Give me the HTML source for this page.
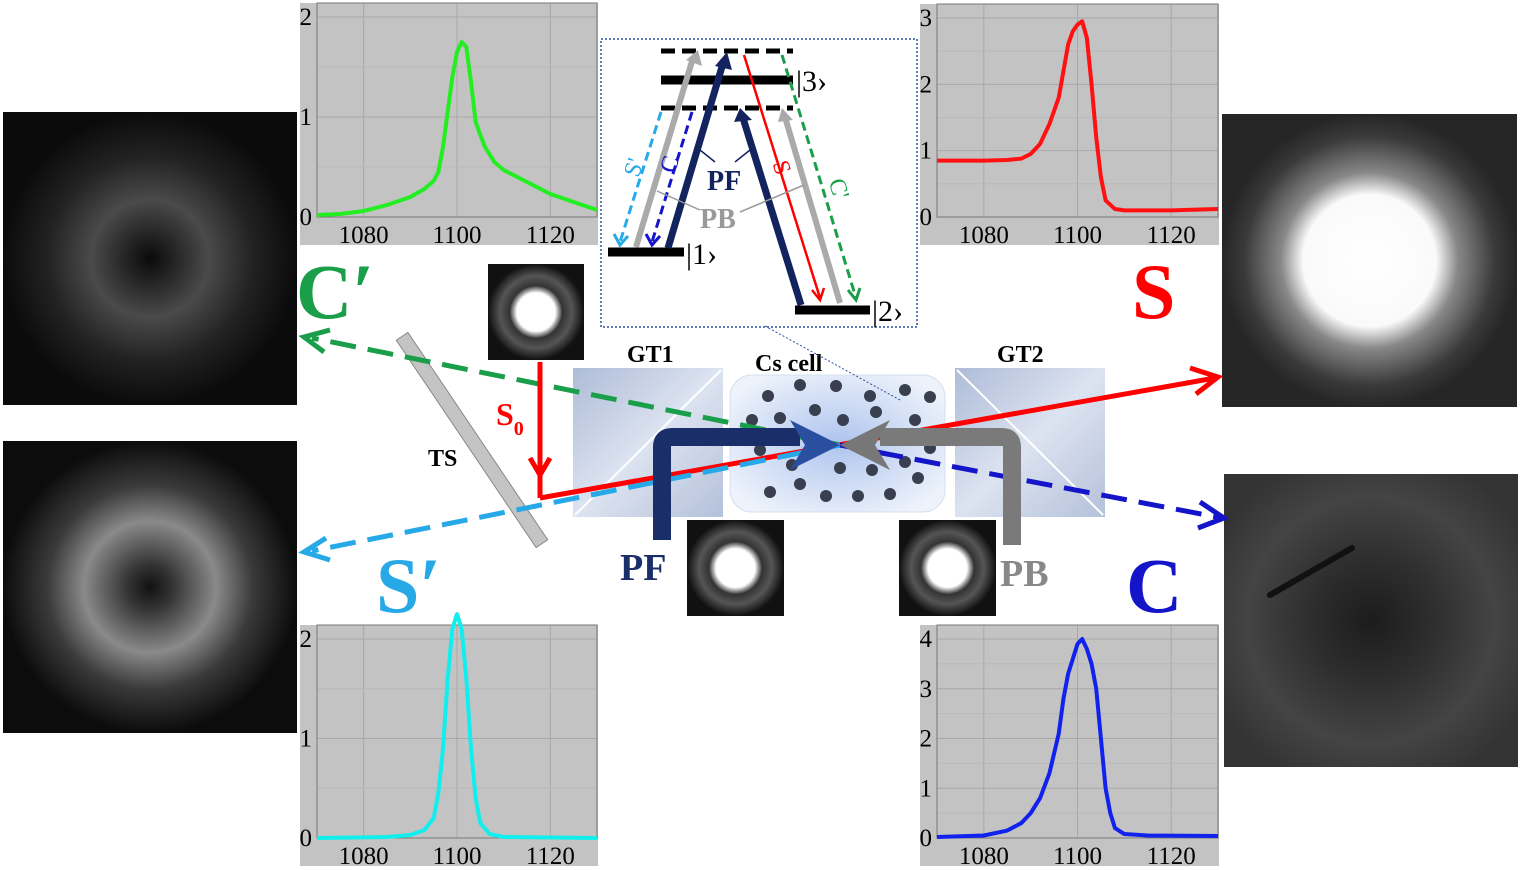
<!DOCTYPE html>
<html><head><meta charset="utf-8"><style>
body{margin:0;background:#fff;}
svg{display:block;font-family:"Liberation Serif",serif;}
</style></head><body>
<svg id="fig" width="1520" height="870" viewBox="0 0 1520 870">
<defs>
<radialGradient id="donut1" cx="50%" cy="50%" r="50%"><stop offset="0" stop-color="#0a0a0a"/><stop offset="0.15" stop-color="#222"/><stop offset="0.4" stop-color="#4a4a4a"/><stop offset="0.7" stop-color="#222"/><stop offset="1" stop-color="#0b0b0b"/></radialGradient>
<radialGradient id="donut2" cx="50%" cy="50%" r="50%"><stop offset="0" stop-color="#111"/><stop offset="0.15" stop-color="#333"/><stop offset="0.45" stop-color="#8a8a8a"/><stop offset="0.7" stop-color="#3a3a3a"/><stop offset="1" stop-color="#0c0c0c"/></radialGradient>
<radialGradient id="blob" cx="50%" cy="50%" r="50%"><stop offset="0" stop-color="#fff"/><stop offset="0.45" stop-color="#fafafa"/><stop offset="0.6" stop-color="#888"/><stop offset="0.85" stop-color="#3a3a3a"/><stop offset="1" stop-color="#262626"/></radialGradient>
<radialGradient id="cimg" cx="50%" cy="50%" r="60%"><stop offset="0" stop-color="#1c1c1c"/><stop offset="0.35" stop-color="#2e2e2e"/><stop offset="0.7" stop-color="#444"/><stop offset="1" stop-color="#333"/></radialGradient>
<radialGradient id="spot" cx="50%" cy="50%" r="50%"><stop offset="0" stop-color="#fff"/><stop offset="0.4" stop-color="#fff"/><stop offset="0.55" stop-color="#333"/><stop offset="0.75" stop-color="#555"/><stop offset="1" stop-color="#111"/></radialGradient>
<linearGradient id="gt" x1="0" y1="0" x2="1" y2="1"><stop offset="0" stop-color="#9fb0d0"/><stop offset="0.5" stop-color="#d6deee"/><stop offset="1" stop-color="#a7b6d4"/></linearGradient>
<radialGradient id="cell" cx="50%" cy="50%" r="60%"><stop offset="0" stop-color="#aec4ee"/><stop offset="1" stop-color="#eef3fb"/></radialGradient>
</defs>

<rect x="3" y="112" width="294" height="293" fill="url(#donut1)"/>
<rect x="3" y="441" width="294" height="292" fill="url(#donut2)"/>
<rect x="1222" y="114" width="295" height="293" fill="url(#blob)"/>
<rect x="1224" y="474" width="294" height="293" fill="url(#cimg)"/>
<line x1="1270" y1="595" x2="1352" y2="548" stroke="#111" stroke-width="6" stroke-linecap="round"/>
<rect x="488" y="264" width="96" height="96" fill="url(#spot)"/>
<rect x="687" y="520" width="97" height="96" fill="url(#spot)"/>
<rect x="899" y="520" width="97" height="96" fill="url(#spot)"/>

<g id="plots"></g>

<rect x="573" y="368" width="150" height="149" fill="url(#gt)" opacity="0.85"/>
<line x1="575" y1="515" x2="721" y2="370" stroke="#fff" stroke-width="2"/>
<rect x="955" y="368" width="150" height="149" fill="url(#gt)" opacity="0.85"/>
<line x1="957" y1="370" x2="1103" y2="515" stroke="#fff" stroke-width="2"/>
<rect x="730" y="375" width="215" height="137" rx="22" fill="url(#cell)" stroke="#d5dff0"/>
<g id="dots" fill="#3a3f4f"></g>
<rect x="465" y="315" width="14" height="250" fill="#c4c4c4" stroke="#888" transform="rotate(-34 472 440)"/>

<g stroke-width="5" fill="none">
<line x1="840" y1="445" x2="312" y2="338" stroke="#1a9e4a" stroke-dasharray="26 12"/>
<polyline points="330,330 304,337 324,352" stroke="#1a9e4a"/>
<line x1="540" y1="362" x2="540" y2="498" stroke="#f00"/>
<polyline points="530,458 540,475 550,458" stroke="#f00"/>
<line x1="540" y1="498" x2="1215" y2="378" stroke="#f00"/>
<polyline points="1190,368 1218,377 1196,394" stroke="#f00"/>
<line x1="840" y1="445" x2="312" y2="551" stroke="#27a9e8" stroke-dasharray="26 12"/>
<polyline points="326,538 304,552 330,560" stroke="#27a9e8"/>
<line x1="840" y1="445" x2="1222" y2="518" stroke="#1414c8" stroke-dasharray="26 12"/>
<polyline points="1200,502 1224,518 1198,528" stroke="#1414c8"/>
<path d="M662,540 V447 Q662,437 672,437 H800" stroke="#1a2f6a" stroke-width="18"/>
<path d="M1012,545 V447 Q1012,437 1002,437 H880" stroke="#7a7a7a" stroke-width="18"/>
</g>
<polygon points="790,420 840,445 790,470 805,445" fill="#2a4fa0"/>
<polygon points="890,420 840,445 890,470 875,445" fill="#777"/>

<g font-weight="bold">
<text x="296" y="318" font-size="78" fill="#1a9e4a">C′</text>
<text x="1132" y="318" font-size="78" fill="#f00">S</text>
<text x="376" y="612" font-size="78" fill="#27a9e8">S′</text>
<text x="1126" y="612" font-size="78" fill="#1414c8">C</text>
<text x="620" y="580" font-size="38" fill="#1a2f6a">PF</text>
<text x="1000" y="586" font-size="38" fill="#888">PB</text>
<text x="627" y="362" font-size="24" fill="#000">GT1</text>
<text x="755" y="371" font-size="24" fill="#000">Cs cell</text>
<text x="997" y="362" font-size="24" fill="#000">GT2</text>
<text x="428" y="466" font-size="24" fill="#000">TS</text>
<text x="496" y="425" font-size="32" fill="#f00">S<tspan font-size="20" dy="10">0</tspan></text>
</g>

<g>
<rect x="601" y="39" width="316" height="288" fill="#fff" stroke="#2a4fa0" stroke-width="1.5" stroke-dasharray="2 2"/>
<line x1="765" y1="326" x2="900" y2="400" stroke="#2a4fa0" stroke-dasharray="2 2"/>
<line x1="661" y1="51" x2="793" y2="51" stroke="#000" stroke-width="5" stroke-dasharray="14 7"/>
<line x1="661" y1="80" x2="793" y2="80" stroke="#000" stroke-width="9"/>
<line x1="661" y1="108" x2="793" y2="108" stroke="#000" stroke-width="5" stroke-dasharray="14 7"/>
<line x1="608" y1="252" x2="684" y2="252" stroke="#000" stroke-width="9"/>
<line x1="795" y1="310" x2="870" y2="310" stroke="#000" stroke-width="9"/>
<text x="686" y="264" font-size="30">|1›</text>
<text x="796" y="91" font-size="30">|3›</text>
<text x="872" y="321" font-size="30">|2›</text>
<g fill="none" stroke-width="5">
<line x1="636" y1="247" x2="693" y2="58" stroke="#aaa" stroke-width="6"/>
<line x1="840" y1="303" x2="785" y2="117" stroke="#aaa" stroke-width="6"/>
<line x1="668" y1="248" x2="724" y2="60" stroke="#13235e" stroke-width="7"/>
<line x1="801" y1="305" x2="743" y2="118" stroke="#13235e" stroke-width="7"/>
<line x1="744" y1="55" x2="820" y2="298" stroke="#f00" stroke-width="2.5"/>
<line x1="782" y1="55" x2="856" y2="298" stroke="#1a9e4a" stroke-width="3" stroke-dasharray="9 5"/>
<line x1="661" y1="112" x2="620" y2="242" stroke="#27a9e8" stroke-width="3" stroke-dasharray="9 5"/>
<line x1="692" y1="112" x2="652" y2="242" stroke="#1414c8" stroke-width="3" stroke-dasharray="9 5"/>
</g>
<polygon points="686,60 698,50 702,66" fill="#aaa"/>
<polygon points="778,122 782,108 793,120" fill="#aaa"/>
<polygon points="715,66 727,52 732,70" fill="#13235e"/>
<polygon points="734,122 740,108 752,120" fill="#13235e"/>
<polyline points="812,290 820,300 824,288" stroke="#f00" stroke-width="2.5" fill="none"/>
<polyline points="848,290 856,300 860,288" stroke="#1a9e4a" stroke-width="3" fill="none"/>
<polyline points="614,234 620,245 628,236" stroke="#27a9e8" stroke-width="3" fill="none"/>
<polyline points="646,234 652,245 660,236" stroke="#1414c8" stroke-width="3" fill="none"/>
<g stroke="#999" stroke-width="1.5"><line x1="657" y1="191" x2="700" y2="210"/><line x1="740" y1="212" x2="804" y2="185"/></g>
<g stroke="#13235e" stroke-width="1.5"><line x1="700" y1="150" x2="715" y2="162"/><line x1="735" y1="162" x2="750" y2="150"/></g>
<text x="707" y="190" font-size="28" font-weight="bold" fill="#13235e">PF</text>
<text x="700" y="228" font-size="28" font-weight="bold" fill="#999">PB</text>
<text x="628" y="180" font-size="24" fill="#27a9e8" transform="rotate(-72 632 172)">S'</text>
<text x="664" y="176" font-size="24" fill="#1414c8" transform="rotate(-72 668 168)">C</text>
<text x="772" y="172" font-size="24" fill="#f00" transform="rotate(72 778 168)">S</text>
<text x="828" y="190" font-size="24" fill="#1a9e4a" transform="rotate(72 834 186)">C'</text>
</g>
</svg>
<script>
const NS="http://www.w3.org/2000/svg";
const gX=[1070,1075,1080,1085,1090,1093,1095,1096,1097,1098,1099,1100,1101,1102,1103,1104,1105,1106,1108,1110,1115,1120,1125,1130];
const gY=[0.02,0.03,0.06,0.12,0.2,0.28,0.36,0.45,0.7,1.05,1.4,1.65,1.75,1.7,1.35,0.95,0.82,0.7,0.55,0.47,0.35,0.23,0.15,0.07];
const rX=[1070,1075,1080,1085,1088,1090,1092,1094,1096,1097,1098,1099,1100,1101,1102,1103,1104,1105,1106,1108,1110,1120,1130];
const rY=[0.85,0.85,0.85,0.86,0.88,0.95,1.1,1.4,1.8,2.2,2.6,2.8,2.9,2.95,2.7,2.0,1.2,0.6,0.25,0.12,0.1,0.1,0.12];
const cX=[1070,1085,1090,1093,1095,1096,1097,1098,1099,1100,1101,1102,1103,1104,1105,1107,1110,1130];
const cY=[0,0.01,0.03,0.08,0.2,0.45,0.9,1.6,2.1,2.25,2.1,1.6,0.9,0.4,0.15,0.04,0.01,0];
const bX=[1070,1080,1085,1088,1090,1092,1094,1096,1097,1098,1099,1100,1101,1102,1103,1104,1105,1106,1107,1108,1110,1115,1130];
const bY=[0.02,0.05,0.15,0.3,0.5,0.8,1.3,2.1,2.8,3.3,3.6,3.9,4.0,3.8,3.5,3.0,2.0,1.0,0.5,0.2,0.08,0.05,0.04];
const xTicks=[1080,1100,1120];
const yTicksG=[0,1,2], yTicksR=[0,1,2,3], yTicksC=[0,1,2], yTicksB=[0,1,2,3,4];
const g=document.getElementById('plots');
function mk(t,a,p){const e=document.createElementNS(NS,t);for(const k in a)e.setAttribute(k,a[k]);(p||g).appendChild(e);return e;}
function plot(name,x0,x1,yTop,y0,ymax,ticks,xs,ys,color){
  const grp=mk('g',{});
  
  
  const bg=mk('rect',{x:x0-17,y:yTop,width:x1-x0+18,height:y0-yTop+28,fill:'#c3c3c3'},grp);
  
  
  const sx=v=>x0+(v-1070)/60*(x1-x0);
  const sy=v=>y0-v/ymax*(y0-yTop-14);
  for(const t of xTicks){mk('line',{x1:sx(t),x2:sx(t),y1:yTop,y2:y0,stroke:'#a8a8a8','stroke-width':1},grp);
    const tx=mk('text',{x:sx(t),y:y0+26,'font-size':25,'text-anchor':'middle',fill:'#000'},grp);tx.textContent=t;
    
    }
  for(let i=0;i<ticks.length;i++){const t=ticks[i];mk('line',{x1:x0,x2:x1,y1:sy(t),y2:sy(t),stroke:'#a8a8a8'},grp);
    if(i<ticks.length-1)mk('line',{x1:x0,x2:x1,y1:sy(t+0.5),y2:sy(t+0.5),stroke:'#b8b8b8'},grp);
    const tx=mk('text',{x:x0-5,y:sy(t)+8,'font-size':25,'text-anchor':'end',fill:'#000'},grp);tx.textContent=t;
    
    }
  mk('rect',{x:x0,y:yTop,width:x1-x0,height:y0-yTop,fill:'none',stroke:'#777'},grp);
  const pl=mk('polyline',{points:xs.map((v,i)=>sx(v)+','+sy(ys[i])).join(' '),fill:'none',stroke:color,'stroke-width':4,'stroke-linejoin':'round'},grp);
  
  
}
plot('green-spectrum',317,597,3,217,2,yTicksG,gX,gY,'#22ee22');
plot('red-spectrum',937,1218,4,217,3,yTicksR,rX,rY,'#ff1111');
plot('cyan-spectrum',317,597,625,838,2,yTicksC,cX,cY,'#11eeee');
plot('blue-spectrum',937,1218,625,838,4,yTicksB,bX,bY,'#1122ee');
const dots=document.getElementById('dots');
[[768,396],[800,385],[836,386],[870,396],[905,390],[930,397],[752,420],[780,418],[815,410],[843,420],[876,412],[915,420],[760,450],[792,465],[840,468],[872,470],[905,462],[930,448],[770,492],[800,484],[826,496],[858,496],[890,494],[918,478]].forEach(p=>{
  const c=mk('circle',{cx:p[0],cy:p[1],r:6},dots);
});
</script>
</body></html>
